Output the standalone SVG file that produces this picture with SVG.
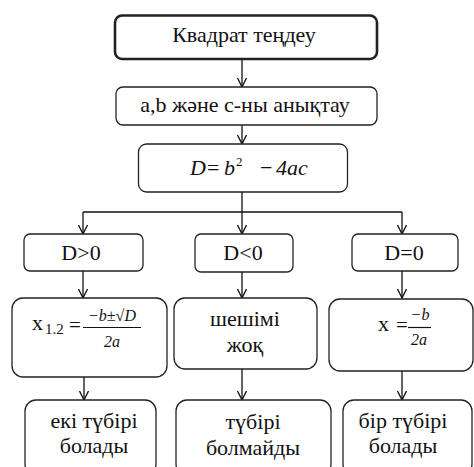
<svg xmlns="http://www.w3.org/2000/svg" width="474" height="467" viewBox="0 0 474 467">
<style>
.box{fill:#fff;stroke:#222;stroke-width:1.3}
.c{fill:none;stroke:#111;stroke-width:1.3}
</style>
<defs>
<marker id="arr" viewBox="0 0 10 10" refX="9.5" refY="5" markerWidth="10" markerHeight="10" orient="auto" markerUnits="userSpaceOnUse">
<path d="M0.5,0.5 L9.5,5 L0.5,9.5" fill="none" stroke="#111" stroke-width="1.3"/>
</marker>
</defs>
<rect width="474" height="467" fill="#fff"/>
<g id="connectors">
<path class="c" d="M242,59 V87" marker-end="url(#arr)"/>
<path class="c" d="M242,125 V144" marker-end="url(#arr)"/>
<path class="c" d="M242,192 V212"/>
<path class="c" d="M83,212 H402"/>
<path class="c" d="M83,212 V234" marker-end="url(#arr)"/>
<path class="c" d="M242,212 V234" marker-end="url(#arr)"/>
<path class="c" d="M402,212 V234" marker-end="url(#arr)"/>
<path class="c" d="M83,271 V298" marker-end="url(#arr)"/>
<path class="c" d="M242,272 V298" marker-end="url(#arr)"/>
<path class="c" d="M402,271 V298" marker-end="url(#arr)"/>
<path class="c" d="M84,377 V400" marker-end="url(#arr)"/>
<path class="c" d="M242,369 V400" marker-end="url(#arr)"/>
<path class="c" d="M402,371 V400" marker-end="url(#arr)"/>
</g>
<g id="n-start">
<rect class="box" x="115" y="15.5" width="262" height="43.5" rx="7" stroke-width="2.6" style="stroke-width:2.6"/>
<text x="244" y="42" font-family="Liberation Serif" font-size="22" text-anchor="middle" fill="#111" style="font-family:'Liberation Serif',serif">Квадрат теңдеу</text>
</g>
<g id="n-abc">
<rect class="box" x="116" y="87" width="261" height="38" rx="7"/>
<text x="245" y="112" font-family="Liberation Serif" font-size="22" text-anchor="middle" fill="#111" style="font-family:'Liberation Serif',serif">a,b және с-ны анықтау</text>
</g>
<g id="n-D">
<rect class="box" x="138.5" y="144" width="209" height="48" rx="8"/>
<text x="190" y="175" font-family="Liberation Serif" font-size="22" fill="#111" style="font-family:'Liberation Serif',serif"><tspan font-style="italic">D</tspan><tspan x="207">=</tspan><tspan x="224" font-style="italic">b</tspan><tspan x="236" y="166" font-size="13">2</tspan><tspan x="260" y="175">−</tspan><tspan x="276" font-style="italic">4ac</tspan></text>
</g>
<g id="n-pos">
<rect class="box" x="24" y="234" width="119" height="37" rx="6"/>
<text x="81" y="260" font-family="Liberation Serif" font-size="22" text-anchor="middle" fill="#111" style="font-family:'Liberation Serif',serif">D&gt;0</text>
</g>
<g id="n-neg">
<rect class="box" x="195" y="234" width="98" height="38" rx="6"/>
<text x="243" y="260" font-family="Liberation Serif" font-size="22" text-anchor="middle" fill="#111" style="font-family:'Liberation Serif',serif">D&lt;0</text>
</g>
<g id="n-zero">
<rect class="box" x="352" y="234" width="106" height="37" rx="6"/>
<text x="404" y="260" font-family="Liberation Serif" font-size="22" text-anchor="middle" fill="#111" style="font-family:'Liberation Serif',serif">D=0</text>
</g>
<g id="n-x12">
<rect class="box" x="12" y="298" width="155" height="79" rx="11"/>
<text x="32" y="330" font-family="Liberation Serif" font-size="22" fill="#111" style="font-family:'Liberation Serif',serif">x</text>
<text x="45" y="334" font-family="Liberation Serif" font-size="15" fill="#111" style="font-family:'Liberation Serif',serif">1.2</text>
<text x="69" y="332" font-family="Liberation Serif" font-size="21" fill="#111" style="font-family:'Liberation Serif',serif">=</text>
<line x1="83" y1="327.5" x2="141" y2="327.5" stroke="#111" stroke-width="1.2"/>
<text x="112" y="321" font-family="Liberation Serif" font-size="16" font-style="italic" text-anchor="middle" fill="#111" style="font-family:'Liberation Serif',serif">−b±√D</text>
<text x="112" y="347" font-family="Liberation Serif" font-size="16" font-style="italic" text-anchor="middle" fill="#111" style="font-family:'Liberation Serif',serif">2a</text>
</g>
<g id="n-none">
<rect class="box" x="174" y="298" width="143" height="71" rx="11"/>
<text x="245" y="326" font-family="Liberation Serif" font-size="22" text-anchor="middle" fill="#111" style="font-family:'Liberation Serif',serif">шешімі</text>
<text x="245" y="352" font-family="Liberation Serif" font-size="22" text-anchor="middle" fill="#111" style="font-family:'Liberation Serif',serif">жоқ</text>
</g>
<g id="n-x">
<rect class="box" x="329" y="299" width="144" height="72" rx="11"/>
<text x="378" y="331" font-family="Liberation Serif" font-size="22" fill="#111" style="font-family:'Liberation Serif',serif">x</text>
<text x="396" y="332" font-family="Liberation Serif" font-size="21" fill="#111" style="font-family:'Liberation Serif',serif">=</text>
<line x1="408" y1="327.5" x2="431" y2="327.5" stroke="#111" stroke-width="1.2"/>
<text x="420" y="320" font-family="Liberation Serif" font-size="16" font-style="italic" text-anchor="middle" fill="#111" style="font-family:'Liberation Serif',serif">−b</text>
<text x="419" y="345" font-family="Liberation Serif" font-size="16" font-style="italic" text-anchor="middle" fill="#111" style="font-family:'Liberation Serif',serif">2a</text>
</g>
<g id="n-two">
<rect class="box" x="25" y="400" width="131" height="75" rx="11"/>
<text x="94" y="428" font-family="Liberation Serif" font-size="22" text-anchor="middle" fill="#111" style="font-family:'Liberation Serif',serif">екі түбірі</text>
<text x="94" y="453" font-family="Liberation Serif" font-size="22" text-anchor="middle" fill="#111" style="font-family:'Liberation Serif',serif">болады</text>
</g>
<g id="n-noroot">
<rect class="box" x="176" y="400" width="155" height="75" rx="11"/>
<text x="253" y="429" font-family="Liberation Serif" font-size="22" text-anchor="middle" fill="#111" style="font-family:'Liberation Serif',serif">түбірі</text>
<text x="253" y="455" font-family="Liberation Serif" font-size="22" text-anchor="middle" fill="#111" style="font-family:'Liberation Serif',serif">болмайды</text>
</g>
<g id="n-one">
<rect class="box" x="343" y="400" width="129" height="75" rx="11"/>
<text x="403" y="428" font-family="Liberation Serif" font-size="22" text-anchor="middle" fill="#111" style="font-family:'Liberation Serif',serif">бір түбірі</text>
<text x="403" y="453" font-family="Liberation Serif" font-size="22" text-anchor="middle" fill="#111" style="font-family:'Liberation Serif',serif">болады</text>
</g>
</svg>
